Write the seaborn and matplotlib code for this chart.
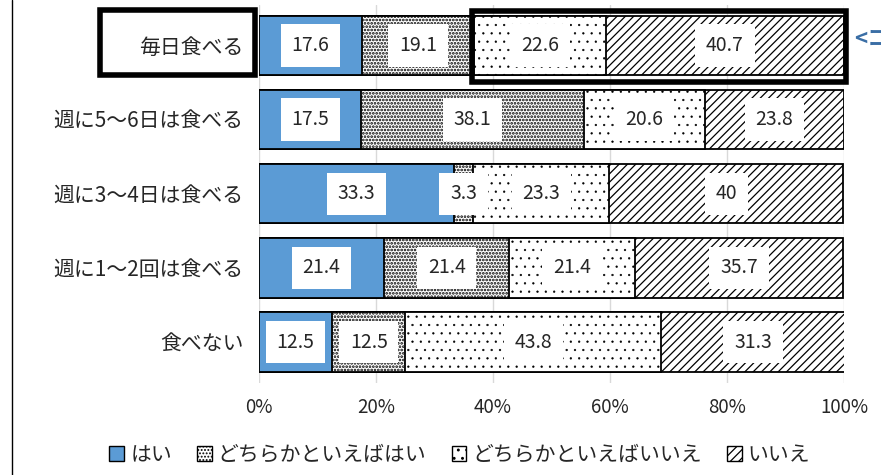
import numpy as np
import pandas as pd
import matplotlib
matplotlib.use("Agg")
import matplotlib.pyplot as plt
from matplotlib.patches import Patch, Rectangle
from matplotlib.lines import Line2D
import seaborn as sns

# data (percent)
categories = ["毎日食べる", "週に5～6日は食べる", "週に3～4日は食べる", "週に1～2回は食べる", "食べない"]
answers = ["はい", "どちらかといえばはい", "どちらかといえばいいえ", "いいえ"]
hai = [17.6, 17.5, 33.3, 21.4, 12.5]
dochira_hai = [19.1, 38.1, 3.3, 21.4, 12.5]
dochira_iie = [22.6, 20.6, 23.3, 21.4, 43.8]
iie = [40.7, 23.8, 40, 35.7, 31.3]
xticks = [0, 20, 40, 60, 80, 100]

sns.set_style("white")
plt.rcParams['font.family'] = ['Noto Sans CJK JP', 'DejaVu Sans']
plt.rcParams['hatch.linewidth'] = 0.9

df = pd.DataFrame({"cat": categories, answers[0]: hai, answers[1]: dochira_hai,
                   answers[2]: dochira_iie, answers[3]: iie})
cum = df[answers].cumsum(axis=1)

colors = ["#5B9BD5", "white", "white", "white"]
hatches = [None, ".....", "..", "////"]
hatch_lw = [1.0, 1.3, 0.4, 0.9]

fig = plt.figure(figsize=(8.81, 4.75), dpi=100)
ax = fig.add_axes([0.294, 0.194, 0.664, 0.796])

# stacked bars by overplotting cumulative totals, longest first
for i in reversed(range(len(answers))):
    n0 = len(ax.patches)
    sns.barplot(x=cum[answers[i]], y=df["cat"], orient="h", ax=ax,
                color=colors[i], edgecolor="black", linewidth=1.3,
                hatch=hatches[i], width=0.8, saturation=1, zorder=2)
    for p in ax.patches[n0:]:
        if hasattr(p, "set_hatch_linewidth"):
            p.set_hatch_linewidth(hatch_lw[i])

# value labels in white boxes
for i in range(len(answers)):
    for j, cat in enumerate(categories):
        v = df[answers[i]][j]
        xc = cum[answers[i]][j] - v / 2
        ax.text(xc, j, f"{v:g}", ha="center", va="center", fontsize=14, zorder=5,
                bbox=dict(boxstyle="square,pad=0.55", fc="white", ec="none"))

ax.set_xlim(0, 100)
ax.set_ylim(4.55, -0.55)
ax.set_xticks(xticks)
ax.set_xticklabels([f"{t}%" for t in xticks], fontsize=13.5)
ax.tick_params(axis="y", labelsize=15, length=0, pad=11)
ax.tick_params(axis="x", length=0, pad=10)
ax.set_xlabel("")
ax.set_ylabel("")
ax.grid(axis="x", color="#d9d9d9", lw=1, zorder=0)
ax.set_axisbelow(True)
for s in ax.spines.values():
    s.set_visible(False)

# highlight boxes
ax.add_patch(Rectangle((36.4, -0.47), 64.0, 0.96, fill=False, ec="black", lw=4,
                       clip_on=False, zorder=6))
fig.patches.append(Rectangle((0.1135, 0.842), 0.176, 0.137, fill=False, ec="black",
                             lw=4, transform=fig.transFigure, zorder=6))
fig.lines.append(Line2D([0.0136, 0.0136], [0, 1], color="black", lw=1,
                        transform=fig.transFigure))
fig.text(0.969, 0.918, "<コ", color="#3A6EA5", fontsize=16, fontweight="bold", va="center")

handles = [Patch(facecolor=colors[i], edgecolor="black", hatch=hatches[i], label=answers[i])
           for i in range(len(answers))]
fig.legend(handles=handles, loc="center", bbox_to_anchor=(0.522, 0.042), ncol=4,
           frameon=False, fontsize=15, handlelength=0.7, handleheight=0.7,
           handletextpad=0.3, columnspacing=1.2)

fig.savefig("out.png", dpi=100)
